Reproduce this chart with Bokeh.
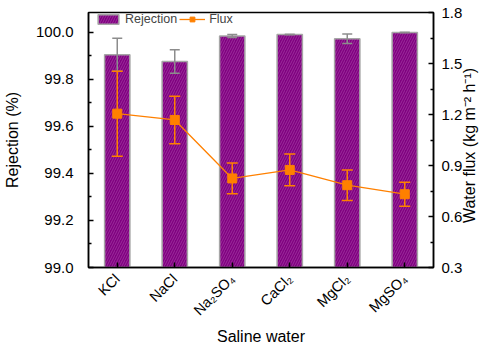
import math
from bokeh.plotting import figure
from bokeh.models import (ColumnDataSource, Range1d, FactorRange, LinearAxis,
                          FixedTicker, Legend, LegendItem, NumeralTickFormatter)
from bokeh.embed import file_html
from bokeh.resources import INLINE

salts = ["KCl", "NaCl", "Na₂SO₄", "CaCl₂", "MgCl₂", "MgSO₄"]
rejection = [99.905, 99.877, 99.985, 99.991, 99.973, 100.0]
rejection_err = [0.07, 0.05, 0.006, 0.0, 0.02, 0.0]
flux = [1.205, 1.168, 0.824, 0.874, 0.784, 0.731]
flux_err = [0.25, 0.14, 0.09, 0.093, 0.09, 0.07]

left_ticks = [99.0, 99.2, 99.4, 99.6, 99.8, 100.0]
left_minor = [99.1, 99.3, 99.5, 99.7, 99.9]
right_ticks = [0.3, 0.6, 0.9, 1.2, 1.5, 1.8]
right_minor = [0.45, 0.75, 1.05, 1.35, 1.65]
right_title = "Water flux (kg m⁻² h⁻¹)"

FONT = "Liberation Sans"
PURPLE = "#800080"
ORANGE = "#ff8000"
GREY = "#8c8c8c"

src = ColumnDataSource(dict(
    salt=salts, rej=rejection,
    rej_hi=[r + e for r, e in zip(rejection, rejection_err)],
    rej_lo=[r - e for r, e in zip(rejection, rejection_err)],
    flux=flux,
    flux_hi=[f + e for f, e in zip(flux, flux_err)],
    flux_lo=[f - e for f, e in zip(flux, flux_err)],
))

p = figure(x_range=FactorRange(*salts, range_padding=0), y_range=Range1d(99.0, 100.085),
           frame_width=345, frame_height=255, output_backend="svg", toolbar_location=None,
           min_border_left=80, min_border_right=51, min_border_top=12, min_border_bottom=69)
p.extra_y_ranges = {"flux": Range1d(0.3, 1.8)}

p.xgrid.grid_line_color = None
p.ygrid.grid_line_color = None
p.outline_line_color = "black"
p.outline_line_width = 1.5
p.background_fill_color = "white"
p.border_fill_color = "white"

bars = p.vbar(x="salt", top="rej", bottom=99.0, width=0.44, source=src,
              fill_color=PURPLE, line_color="#a6a6a6", line_width=1.5,
              hatch_pattern="/", hatch_color="#e0a8e0", hatch_alpha=0.45,
              hatch_scale=5, hatch_weight=0.6)

# rejection error bars (grey)
p.segment(x0="salt", y0="rej_lo", x1="salt", y1="rej_hi", source=src,
          line_color=GREY, line_width=1.5)
p.scatter(x="salt", y="rej_hi", source=src, marker="dash", size=10,
          line_color=GREY, line_width=1.5)
p.scatter(x="salt", y="rej_lo", source=src, marker="dash", size=10,
          line_color=GREY, line_width=1.5)

# flux line + error bars (orange)
fl = p.line(x="salt", y="flux", source=src, y_range_name="flux",
            line_color=ORANGE, line_width=1.3)
p.segment(x0="salt", y0="flux_lo", x1="salt", y1="flux_hi", source=src,
          y_range_name="flux", line_color=ORANGE, line_width=1.5)
p.scatter(x="salt", y="flux_hi", source=src, y_range_name="flux", marker="dash",
          size=11, line_color=ORANGE, line_width=1.5)
p.scatter(x="salt", y="flux_lo", source=src, y_range_name="flux", marker="dash",
          size=11, line_color=ORANGE, line_width=1.5)
fm = p.scatter(x="salt", y="flux", source=src, y_range_name="flux", marker="square",
               size=9, fill_color=ORANGE, line_color=ORANGE)


def style_axis(ax):
    ax.axis_line_width = 1.5
    ax.axis_line_color = "black"
    ax.major_tick_line_width = 1.5
    ax.minor_tick_line_width = 1.5
    ax.major_tick_in = 5
    ax.major_tick_out = 0
    ax.minor_tick_in = 3
    ax.minor_tick_out = 0
    ax.major_label_text_font = FONT
    ax.major_label_text_font_size = "15px"
    ax.major_label_text_color = "black"
    ax.axis_label_text_font = FONT
    ax.axis_label_text_font_size = "16px"
    ax.axis_label_text_font_style = "normal"
    ax.axis_label_text_color = "black"


xa = p.xaxis[0]
style_axis(xa)
xa.axis_label = "Saline water"
xa.major_label_orientation = math.pi / 4
xa.major_label_text_font_size = "14.5px"
xa.major_label_standoff = 9
xa.axis_label_standoff = 1

ya = p.yaxis[0]
style_axis(ya)
ya.ticker = FixedTicker(ticks=left_ticks, minor_ticks=left_minor)
ya.formatter = NumeralTickFormatter(format="0.0")
ya.axis_label = "Rejection (%)"
ya.major_label_standoff = 15
ya.axis_label_standoff = 12

yr = LinearAxis(y_range_name="flux")
style_axis(yr)
yr.ticker = FixedTicker(ticks=right_ticks, minor_ticks=right_minor)
yr.formatter = NumeralTickFormatter(format="0.0")
yr.major_label_standoff = 8
p.add_layout(yr, "right")

# title-only axis on the right, so its label reads bottom-to-top like the reference
yt = LinearAxis(y_range_name="flux")
style_axis(yt)
yt.ticker = FixedTicker(ticks=[], minor_ticks=[])
yt.axis_line_color = None
yt.major_tick_line_color = None
yt.minor_tick_line_color = None
yt.major_label_standoff = 0
# non-breaking spaces lift the start of the title off the frame bottom
yt.axis_label = "\u00a0" * 10 + right_title
yt.axis_label_standoff = 4
if "axis_label_orientation" in yt.properties():
    yt.axis_label_orientation = math.pi / 2
if "axis_label_align" in yt.properties():
    yt.axis_label_align = "start"
p.add_layout(yt, "right")

legend = Legend(items=[LegendItem(label="Rejection", renderers=[bars]),
                       LegendItem(label="Flux", renderers=[fl, fm])],
                orientation="horizontal", location=(7, 241),
                label_text_font=FONT, label_text_font_size="12.5px",
                glyph_width=26, glyph_height=12, label_height=12, label_standoff=4,
                spacing=2, padding=0, margin=0, border_line_color=None,
                background_fill_alpha=0)
p.add_layout(legend, "center")

open("out.html", "w").write(file_html(p, INLINE))
